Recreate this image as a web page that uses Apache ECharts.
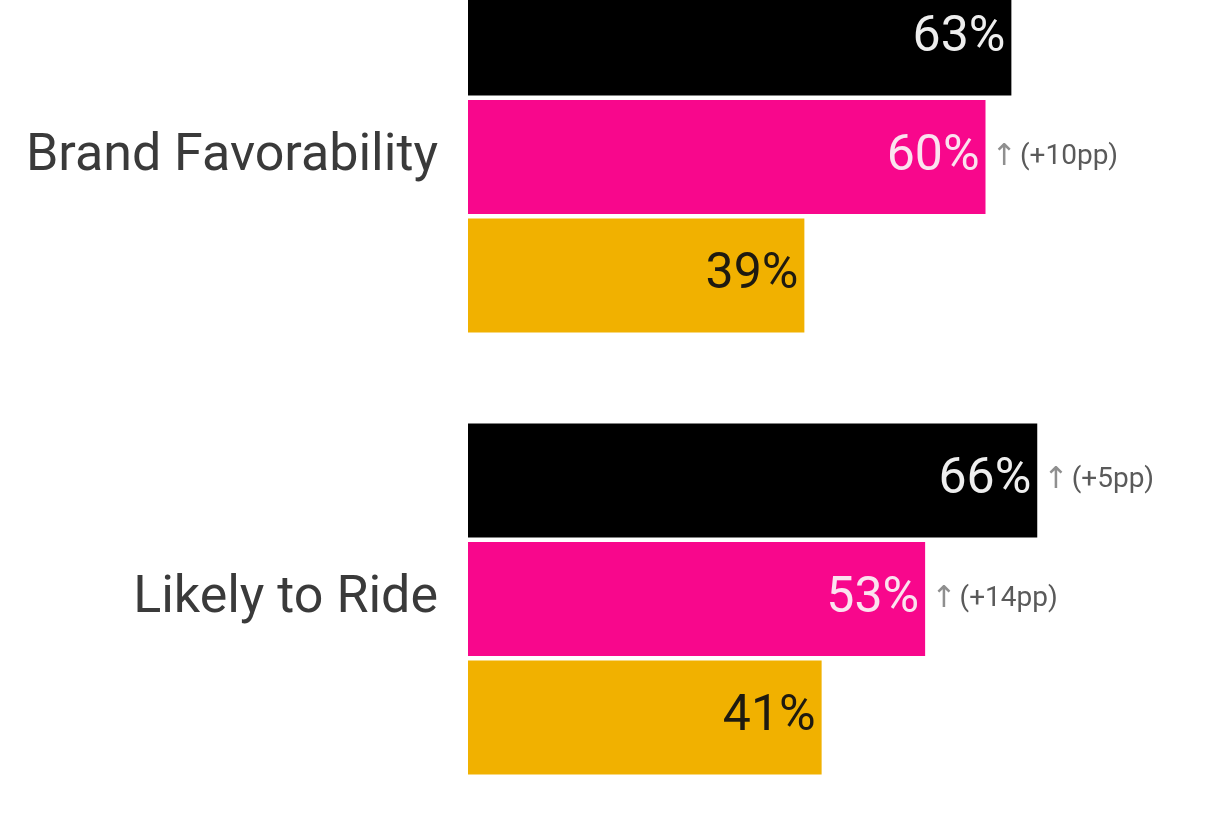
<!DOCTYPE html>
<html>
<head>
<meta charset="utf-8">
<script src="https://cdn.jsdelivr.net/npm/echarts@6/dist/echarts.min.js"></script>
<style>html,body{margin:0;padding:0;background:#fff;}#c{width:1225px;height:819px;}</style>
</head>
<body>
<div id="c"></div>
<script>
const categories = ['Brand Favorability', 'Likely to Ride'];
const blackValues = [63, 66];
const pinkValues = [60, 53];
const orangeValues = [39, 41];
const blackDelta = [null, 5];
const pinkDelta = [10, 14];
const orangeDelta = [null, null];

const chart = echarts.init(document.getElementById('c'));

function marks(values, deltas) {
  const out = [];
  deltas.forEach((d, i) => {
    if (d != null) out.push({ coord: [values[i], categories[i]], value: d });
  });
  return out;
}

function makeSeries(name, values, deltas, color, labelColor) {
  return {
    name: name,
    type: 'bar',
    data: values,
    barWidth: 114,
    barGap: '4%',
    itemStyle: { color: color },
    label: {
      show: true,
      position: 'insideRight',
      distance: 6,
      formatter: '{c}%',
      color: labelColor,
      fontFamily: 'Roboto',
      fontSize: 50,
      fontWeight: 400
    },
    markPoint: {
      symbol: 'circle',
      symbolSize: 0,
      silent: true,
      data: marks(values, deltas),
      label: {
        show: true,
        position: 'right',
        distance: 6,
        formatter: p => '{a|↑} {b|(+' + p.value + 'pp)}',
        rich: {
          a: { color: '#8f8f8f', fontSize: 30, fontFamily: 'DejaVu Sans' },
          b: { color: '#5a5a5a', fontSize: 28, fontFamily: 'Roboto' }
        }
      }
    }
  };
}

chart.setOption({
  animation: false,
  grid: { left: 468, right: 67, top: -64, height: 884, outerBoundsMode: 'none', containLabel: false },
  xAxis: {
    type: 'value', min: 0, max: 80,
    show: false
  },
  yAxis: {
    type: 'category',
    data: categories,
    inverse: true,
    axisLine: { show: false },
    axisTick: { show: false },
    axisLabel: {
      margin: 30,
      color: '#3a3a3a',
      fontFamily: 'Roboto',
      fontSize: 52
    }
  },
  series: [
    makeSeries('Black', blackValues, blackDelta, '#000000', '#eeeeee'),
    makeSeries('Pink', pinkValues, pinkDelta, '#f8078c', '#fbe3ef'),
    makeSeries('Orange', orangeValues, orangeDelta, '#f1b100', '#1e1a10')
  ]
});
</script>
</body>
</html>
